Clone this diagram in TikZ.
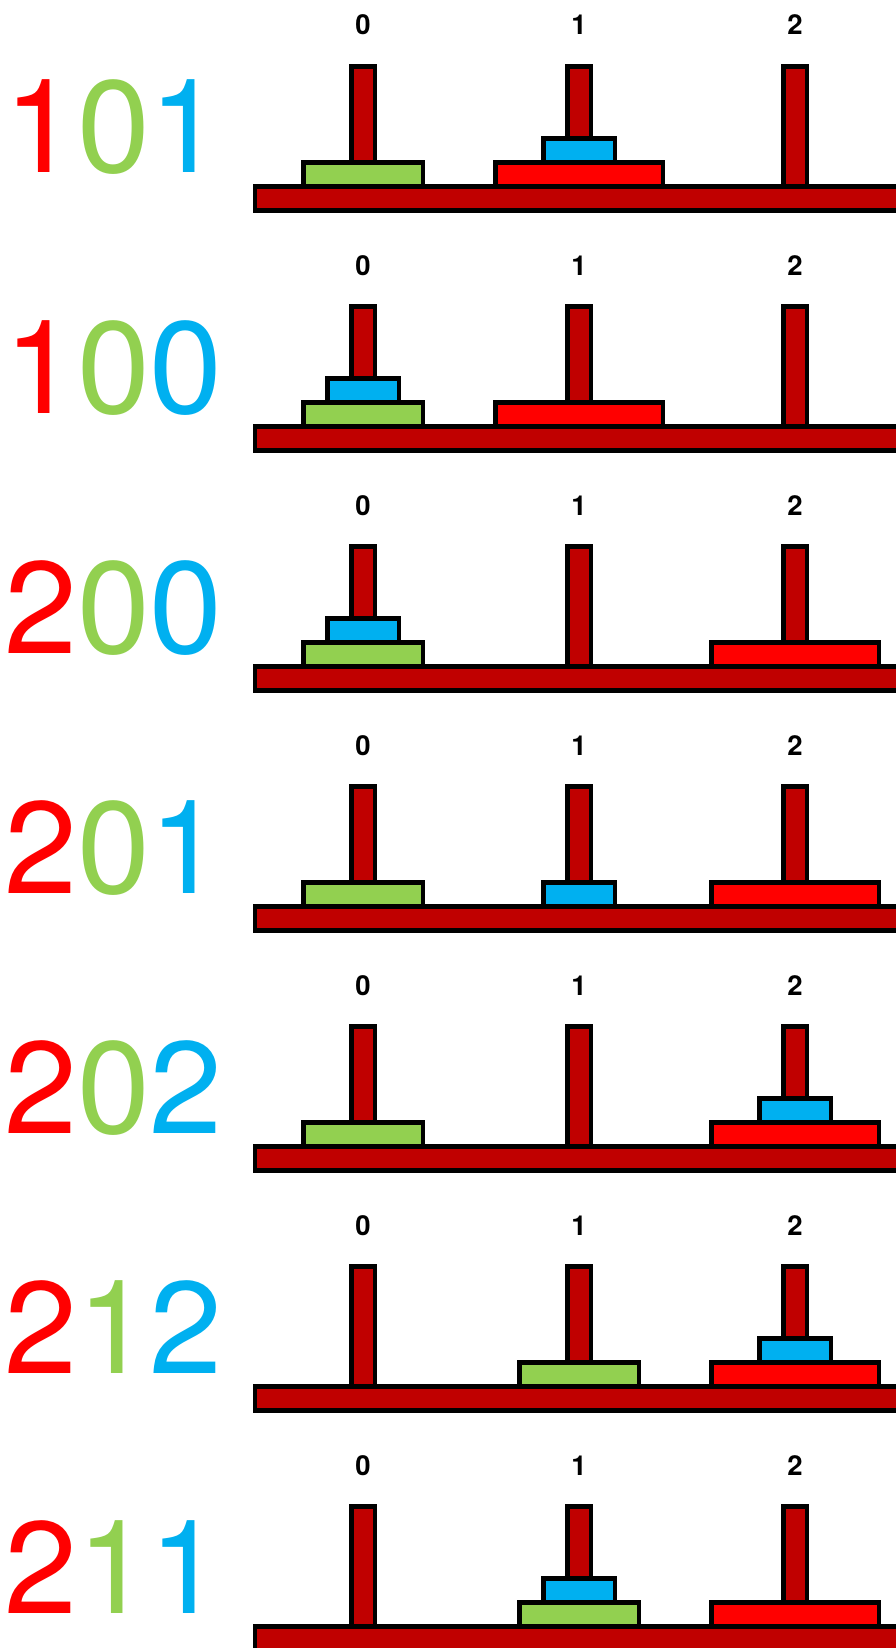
\documentclass[tikz,border=0pt]{standalone}
\usepackage{fontspec}
\setmainfont{TeX Gyre Heros}
\definecolor{pegred}{HTML}{C00000}
\definecolor{dred}{HTML}{FF0000}
\definecolor{dgreen}{HTML}{92D050}
\definecolor{dblue}{HTML}{00B0F0}
\begin{document}
\begin{tikzpicture}[x=1pt,y=-1pt,line width=4.5pt,line join=miter,
  rod/.style={draw=black,fill=pegred},
  redisc/.style={draw=black,fill=dred},
  greendisc/.style={draw=black,fill=dgreen},
  bluedisc/.style={draw=black,fill=dblue},
  peglabel/.style={font=\bfseries\fontsize{27.5}{27.5}\selectfont,inner sep=0pt,anchor=base},
  code/.style={font=\fontsize{131}{131}\selectfont,inner sep=0pt,anchor=base west}]
\useasboundingbox (0,0) rectangle (896,1648);
\clip (0,0) rectangle (896,1648);
% k / red peg / green peg / blue peg / blue level
\foreach \k/\rp/\gp/\bp/\bl in {0/1/0/1/1, 1/1/0/0/1, 2/2/0/0/1, 3/2/0/1/0, 4/2/0/2/1, 5/2/1/2/1, 6/2/1/1/1}{
  \begin{scope}[yshift={-240*\k pt}]
    % pegs
    \foreach \p in {0,1,2}{
      \draw[rod] ({363+216*\p-11.75},66.5) rectangle ({363+216*\p+11.75},186.5);
      \node[peglabel] (lab\k\p) at ({363+216*\p},35) {\p};
    }
    % discs
    \draw[redisc] ({363+216*\rp-83.75},162.5) rectangle ({363+216*\rp+83.75},186.5);
    \draw[greendisc] ({363+216*\gp-59.75},162.5) rectangle ({363+216*\gp+59.75},186.5);
    \draw[bluedisc] ({363+216*\bp-35.75},{162.5-24*\bl}) rectangle ({363+216*\bp+35.75},{186.5-24*\bl});
    % base
    \draw[rod] (255,186.5) rectangle (910,210.3);
    % code
    \node[code] (code\k) at (2,173) {\textcolor{dred}{\ifnum\rp=1 1\else 2\fi}\textcolor{dgreen}{\gp}\textcolor{dblue}{\bp}};
  \end{scope}
}
\end{tikzpicture}
\end{document}
